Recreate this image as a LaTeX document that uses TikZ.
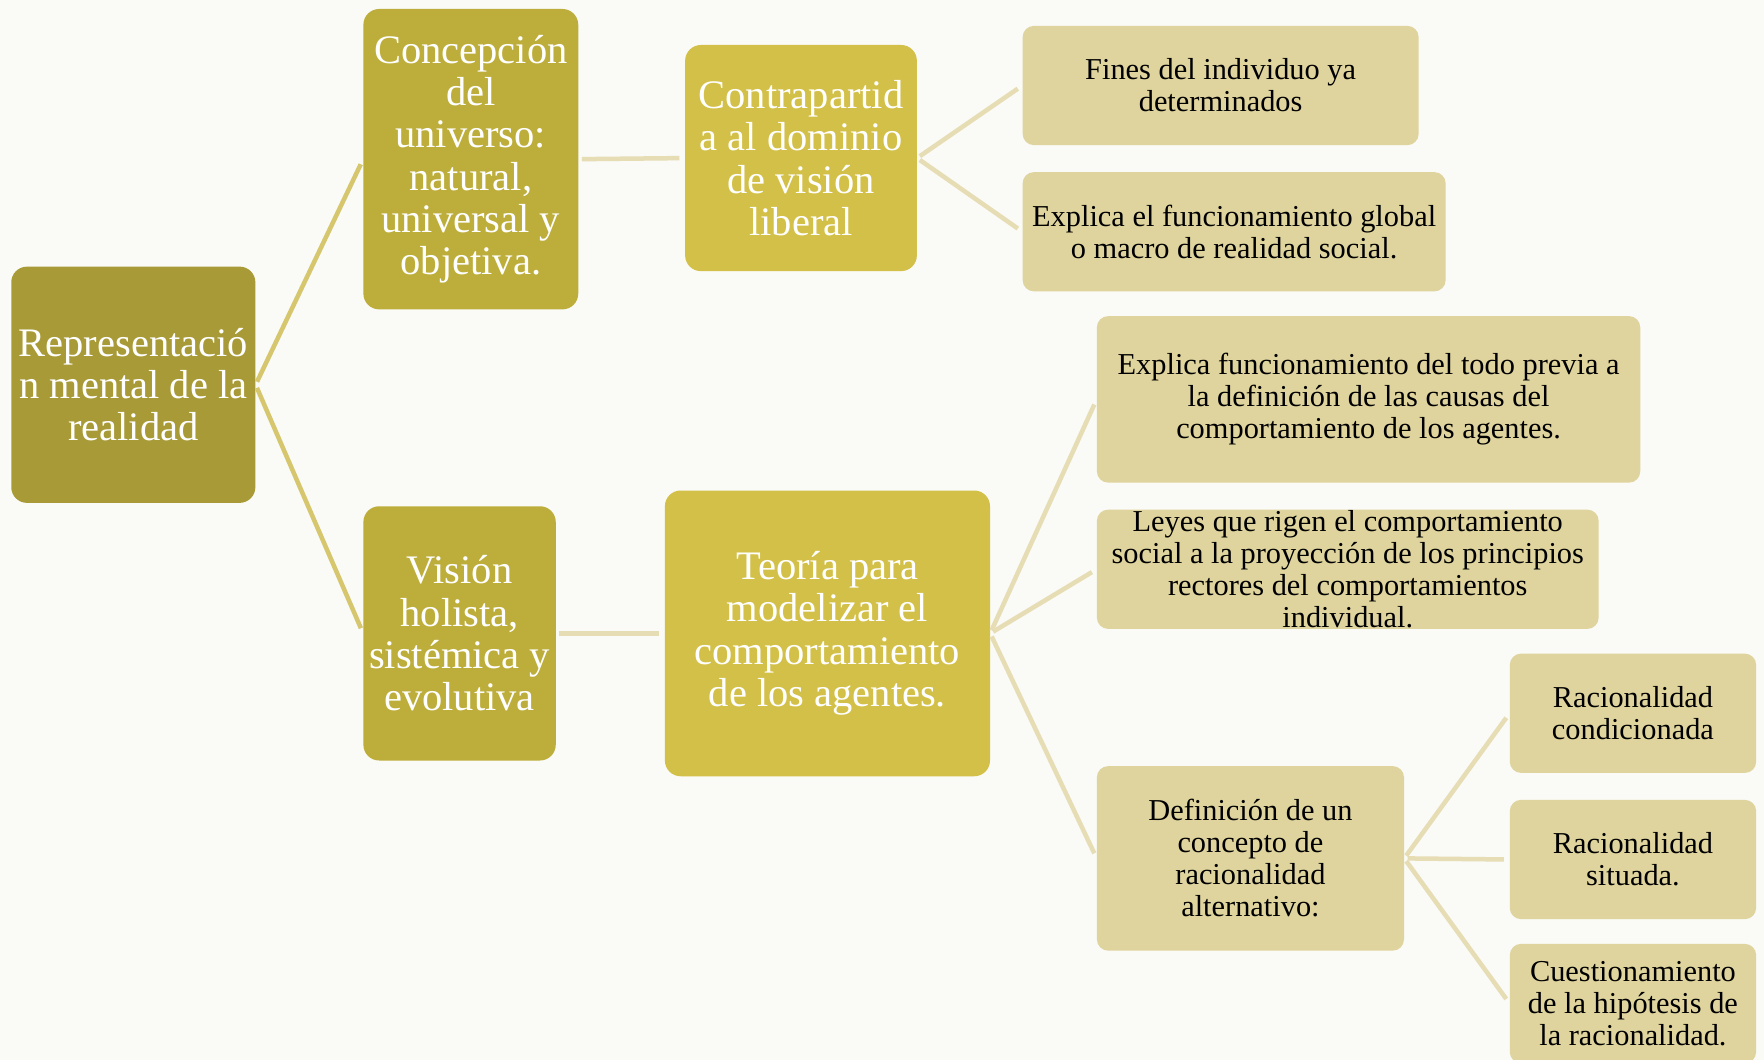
\documentclass[tikz,border=0pt]{standalone}
\usepackage{fontspec}
\setmainfont{Liberation Serif}
\definecolor{rootfill}{HTML}{A89A36}
\definecolor{midfill}{HTML}{BDAE3C}
\definecolor{topfill}{HTML}{D3C048}
\definecolor{leaffill}{HTML}{DFD49E}
\definecolor{rootlink}{HTML}{D6C76E}
\definecolor{leaflink}{HTML}{E6DDB4}
\definecolor{paper}{HTML}{FAFAF6}
\begin{document}
\begin{tikzpicture}[x=1pt,y=-1pt,
    box/.style={rounded corners=14pt, inner sep=0pt, align=center, text=white,
                font=\fontsize{36}{37.5}\selectfont},
    leaf/.style={box, fill=leaffill, text=black, rounded corners=10pt,
                 font=\fontsize{27}{28.5}\selectfont},
    link/.style={draw=leaflink, line width=4pt, shorten <=3pt, shorten >=5pt}]
\clip (0,0) rectangle (1568,942);
\useasboundingbox (0,0) rectangle (1568,942);
\fill[paper] (0,0) rectangle (1568,942);
\tikzset{every node/.style={box}}
%\tikzset{every node/.style={box, draw=white, line width=2pt}}
\node[fill=rootfill, minimum width=217pt, minimum height=210pt] (root) at (118.5,342)
    {Representació\\n mental de la\\realidad};
\node[fill=midfill, minimum width=191pt, minimum height=267pt] (concep) at (418.5,141.5)
    {Concepción\\del\\universo:\\natural,\\universal y\\objetiva.};
\node[fill=midfill, minimum width=171pt, minimum height=226pt] (vision) at (408.5,563)
    {Visión\\holista,\\sistémica y\\evolutiva};
\node[fill=topfill, minimum width=206pt, minimum height=201pt] (contra) at (712,140.5)
    {Contrapartid\\a al dominio\\de visión\\liberal};
\node[fill=topfill, minimum width=289pt, minimum height=254pt] (teoria) at (735.5,563)
    {Teoría para\\modelizar el\\comportamiento\\de los agentes.};
\node[leaf, minimum width=352pt, minimum height=106pt] (fines) at (1085,76)
    {Fines del individuo ya\\determinados};
\node[leaf, minimum width=376pt, minimum height=106pt] (global) at (1097,206)
    {Explica el funcionamiento global\\o macro de realidad social.};
\node[leaf, minimum width=483pt, minimum height=148pt] (todo) at (1216.5,355)
    {Explica funcionamiento del todo previa a\\la definición de las causas del\\comportamiento de los agentes.};
\node[leaf, minimum width=446pt, minimum height=106pt] (leyes) at (1198,506)
    {Leyes que rigen el comportamiento\\social a la proyección de los principios\\rectores del comportamientos\\individual.};
\node[leaf, minimum width=273pt, minimum height=164pt] (defin) at (1111.5,763)
    {Definición de un\\concepto de\\racionalidad\\alternativo:};
\node[leaf, minimum width=219pt, minimum height=106pt] (condic) at (1451.5,634)
    {Racionalidad\\condicionada};
\node[leaf, minimum width=219pt, minimum height=106pt] (situada) at (1451.5,764)
    {Racionalidad\\situada.};
\node[leaf, minimum width=219pt, minimum height=106pt] (cuest) at (1451.5,892)
    {Cuestionamiento\\de la hipótesis de\\la racionalidad.};
\draw[link, draw=rootlink] (root.east) -- (concep.west);
\draw[link, draw=rootlink] (root.east) -- (vision.west);
\draw[link] (concep.east) -- (contra.west);
\draw[link, line width=5pt] (vision.east) -- (teoria.west);
\draw[link] (contra.east) -- (fines.west);
\draw[link] (contra.east) -- (global.west);
\draw[link] (teoria.east) -- (todo.west);
\draw[link] (teoria.east) -- (leyes.west);
\draw[link] (teoria.east) -- (defin.west);
\draw[link] (defin.east) -- (condic.west);
\draw[link] (defin.east) -- (situada.west);
\draw[link] (defin.east) -- (cuest.west);
\end{tikzpicture}
\end{document}
